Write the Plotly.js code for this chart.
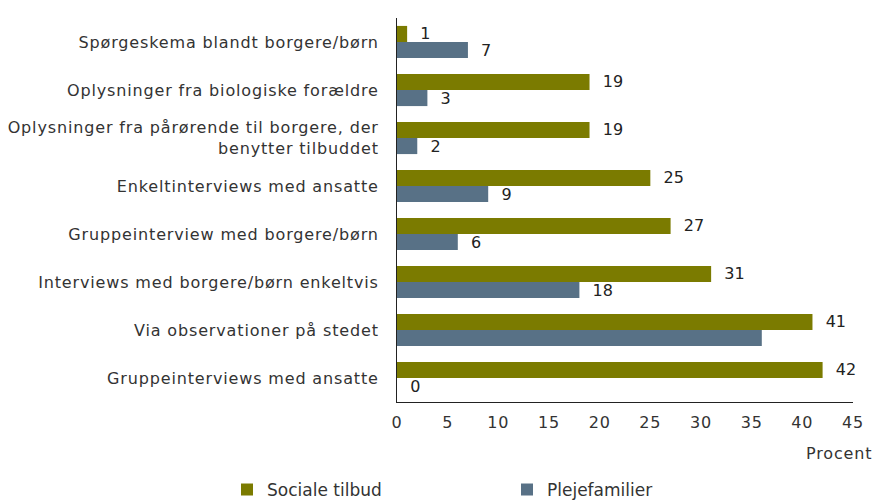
<!DOCTYPE html>
<html>
<head>
<meta charset="utf-8">
<script src="https://cdn.plot.ly/plotly-3.0.1.min.js"></script>
<style>html,body{margin:0;padding:0;background:#fff;}#chart{width:872px;height:502px;}
#chart .ytick text, #chart .xtick text, #chart .annotation text, #chart .bartext text{letter-spacing:0.85px;}</style>
</head>
<body>
<div id="chart"></div>
<script>
const categories = [
  "Spørgeskema blandt borgere/børn",
  "Oplysninger fra biologiske forældre",
  "Oplysninger fra pårørende til borgere, der<br>benytter tilbuddet",
  "Enkeltinterviews med ansatte",
  "Gruppeinterview med borgere/børn",
  "Interviews med borgere/børn enkeltvis",
  "Via observationer på stedet",
  "Gruppeinterviews med ansatte"
];
const socialeTilbud = [1, 19, 19, 25, 27, 31, 41, 42];
const plejefamilier = [7, 3, 2, 9, 6, 18, 36, 0];
const plejeShowLabel = [true, true, true, true, true, true, false, true];
const xTicks = [0, 5, 10, 15, 20, 25, 30, 35, 40, 45];

const font = "DejaVu Sans, Verdana, sans-serif";
const traces = [
  {
    type: "bar", orientation: "h", name: "Sociale tilbud", legend: "legend",
    y: categories, x: socialeTilbud,
    marker: {color: "#7b7b00"},
    text: socialeTilbud.map(v => "  " + v), textposition: "outside", constraintext: "none",
    textfont: {family: font, size: 16, color: "#222"}, cliponaxis: false
  },
  {
    type: "bar", orientation: "h", name: "Plejefamilier", legend: "legend2",
    y: categories, x: plejefamilier,
    marker: {color: "#587186"},
    text: plejefamilier.map((v, i) => plejeShowLabel[i] ? "  " + v : ""), textposition: "outside", constraintext: "none",
    textfont: {family: font, size: 16, color: "#222"}, cliponaxis: false
  }
];
const legendBase = {
  orientation: "h", xref: "container", yref: "container",
  y: 0.024, xanchor: "left", yanchor: "middle",
  itemwidth: 30, font: {size: 17, color: "#333"}, bgcolor: "rgba(0,0,0,0)"
};
const layout = {
  width: 872, height: 502,
  margin: {l: 397, r: 19, t: 18, b: 100},
  paper_bgcolor: "#fff", plot_bgcolor: "#fff",
  font: {family: font, size: 16, color: "#333"},
  barmode: "group", bargap: 0.33, bargroupgap: 0,
  xaxis: {
    range: [0, 45], tickvals: xTicks, ticktext: xTicks.map(String),
    showgrid: false, zeroline: false, showline: true, linecolor: "#222", linewidth: 1,
    ticks: "", ticklabelstandoff: 6, tickfont: {size: 16, color: "#333"}, fixedrange: true
  },
  yaxis: {
    type: "category", autorange: "reversed",
    showgrid: false, zeroline: false, showline: true, linecolor: "#222", linewidth: 1,
    ticks: "", ticklabelstandoff: 14, tickfont: {size: 16, color: "#333"}
  },
  showlegend: true,
  legend: Object.assign({}, legendBase, {x: 227 / 872}),
  legend2: Object.assign({}, legendBase, {x: 507 / 872}),
  annotations: [{
    text: "Procent", xref: "paper", yref: "paper", x: 1.04, y: 0,
    xanchor: "right", yanchor: "top", yshift: -40, showarrow: false,
    font: {size: 16, color: "#333"}
  }]
};
Plotly.newPlot("chart", traces, layout, {displayModeBar: false, staticPlot: true});
</script>
</body>
</html>
